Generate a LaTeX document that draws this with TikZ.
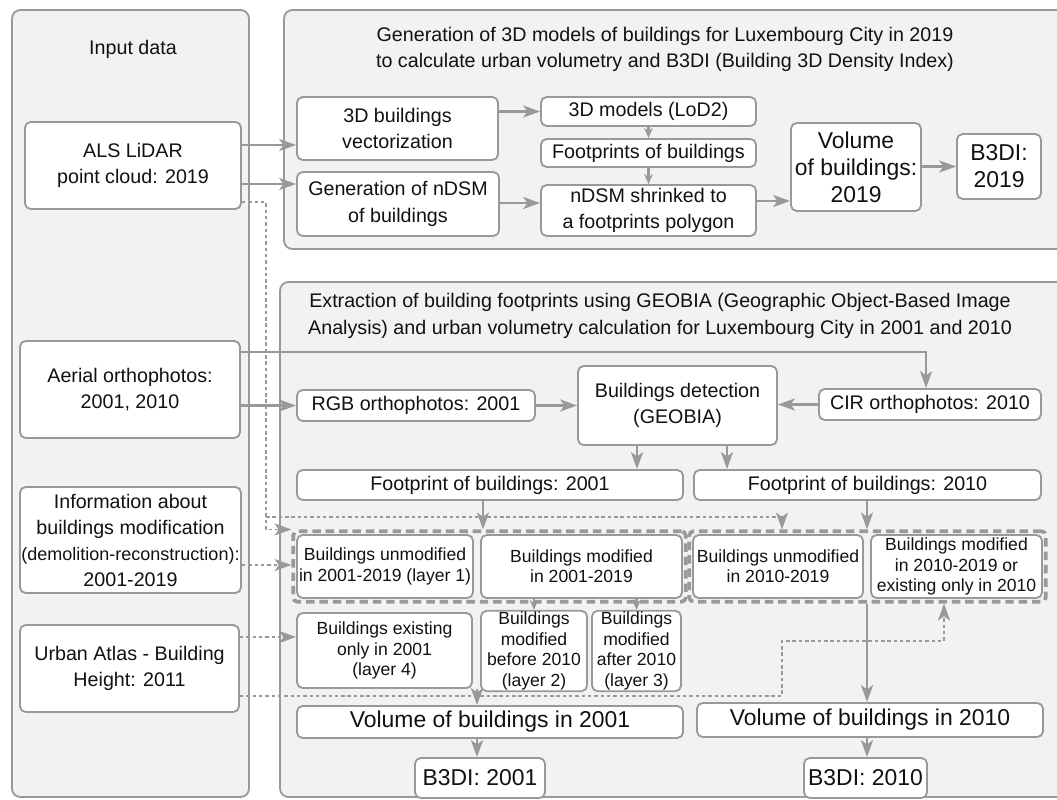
\documentclass[tikz,border=0pt]{standalone}
\usepackage{fontspec}
\setmainfont{Liberation Sans}
\usetikzlibrary{arrows.meta,positioning,fit,calc}
\definecolor{flowgray}{HTML}{999999}
\definecolor{panelgray}{HTML}{F2F2F2}
\definecolor{inktext}{HTML}{111111}
\newcommand{\upx}{0.025cm}

\begin{document}
\begin{tikzpicture}[x=\upx,y=-\upx,font=\fontsize{14}{19}\selectfont,text=inktext,
  panel/.style={draw=flowgray,fill=panelgray,line width=1.3pt,rounded corners=6pt},
  blk/.style 2 args={draw=flowgray,fill=white,line width=1.3pt,rounded corners=4pt,align=center,inner sep=1pt,minimum width=#1*\upx,minimum height=#2*\upx},
  smalltxt/.style={font=\fontsize{12.5}{14.5}\selectfont},
  bigtxt/.style={font=\fontsize{16.3}{19.2}\selectfont},
  grp/.style={draw=flowgray,line width=2.6pt,dash pattern=on 6pt off 3.5pt,rounded corners=3pt,inner sep=2pt},
  arr/.style={-{Stealth[length=12pt,width=8.5pt,inset=3pt]},flowgray,line width=1.9pt},
  shortarr/.style={-{Stealth[length=7pt,width=6pt,inset=2pt]},flowgray,line width=1.7pt},
  darr/.style={-{Stealth[length=12pt,width=8.5pt,inset=3pt]},flowgray,line width=1.3pt,dash pattern=on 2.5pt off 2pt}]
\useasboundingbox (0,0) rectangle (1057,800);
\clip (0,0) rectangle (1057,800);

% panels
\draw[panel] (12,10) rectangle (249,797);
\draw[panel] (284,10) rectangle (1070,249);
\draw[panel] (280,282) rectangle (1070,797);

% input data
\node (inputhead) at (133,49) {Input data};
\node[blk={216}{87}] (als) at (133,165.5) {ALS LiDAR\\point cloud: 2019};
\node[blk={220}{97}] (aerial) at (130,389.5) {Aerial orthophotos:\\2001, 2010};
\node[blk={221}{106},font=\fontsize{14}{18.5}\selectfont] (modinfo) at (130.5,540) {Information about\\buildings modification\\{\fontsize{12.8}{18.5}\selectfont(demolition-reconstruction):}\\2001-2019};
\node[blk={219}{87}] (atlas) at (129.5,668.5) {Urban Atlas - Building\\Height: 2011};

% 3D models 2019
\node[align=center,font=\fontsize{14}{18.5}\selectfont] (title3d) at (665,49) {Generation of 3D models of buildings for Luxembourg City in 2019\\to calculate urban volumetry and B3DI (Building 3D Density Index)};
\node[blk={201}{63}] (vect) at (397.5,128.5) {3D buildings\\vectorization};
\node[blk={202}{64}] (ndsm) at (398,204) {Generation of nDSM\\of buildings};
\node[blk={215}{29}] (lod2) at (648.5,111.5) {3D models (LoD2)};
\node[blk={215}{28}] (fprints) at (648.5,153) {Footprints of buildings};
\node[blk={215}{51}] (shrink) at (648.5,210.5) {nDSM shrinked to\\a footprints polygon};
\node[blk={130}{88},bigtxt] (vol19) at (856,167) {Volume\\of buildings:\\2019};
\node[blk={84}{65},bigtxt] (bdi19) at (999,166.5) {B3DI:\\2019};

% GEOBIA 2001 and 2010
\node[align=center,font=\fontsize{14}{19}\selectfont] (titlegeo) at (660,316) {Extraction of building footprints using GEOBIA (Geographic Object-Based Image\\Analysis) and urban volumetry calculation for Luxembourg City in 2001 and 2010};
\node[blk={238}{31}] (rgb) at (416,405.5) {RGB orthophotos: 2001};
\node[blk={199}{79}] (geobia) at (677.5,405.5) {Buildings detection\\(GEOBIA)};
\node[blk={222}{31}] (cir) at (930,404.5) {CIR orthophotos: 2010};
\node[blk={386}{30}] (fp01) at (490,485) {Footprint of buildings: 2001};
\node[blk={347}{30}] (fp10) at (867.5,485) {Footprint of buildings: 2010};
\node[blk={176}{63},smalltxt] (unmod01) at (385,566.5) {Buildings unmodified\\in 2001-2019 (layer 1)};
\node[blk={201}{63},smalltxt] (mod01) at (581.5,566.5) {Buildings modified\\in 2001-2019};
\node[blk={170}{63},smalltxt] (unmod10) at (778,566.5) {Buildings unmodified\\in 2010-2019};
\node[blk={171}{63},smalltxt] (mod10) at (956.5,566.5) {Buildings modified\\in 2010-2019 or\\existing only in 2010};
\node[grp,fit=(unmod01)(mod01)] (grpA) {};
\node[grp,fit=(unmod10)(mod10)] (grpB) {};
\node[blk={175}{75},smalltxt] (only01) at (384.5,650.5) {Buildings existing\\only in 2001\\(layer 4)};
\node[blk={106}{78},smalltxt] (before10) at (534,651) {Buildings\\modified\\before 2010\\(layer 2)};
\node[blk={89}{78},smalltxt] (after10) at (636.5,651) {Buildings\\modified\\after 2010\\(layer 3)};
\node[blk={386}{32},bigtxt] (vol01) at (490,722) {Volume of buildings in 2001};
\node[blk={346}{34},bigtxt] (vol10) at (870,720) {Volume of buildings in 2010};
\node[blk={130}{40},bigtxt] (bdi01) at (480,778) {B3DI: 2001};
\node[blk={123}{40},bigtxt] (bdi10) at (865.5,778) {B3DI: 2010};

% connectors, top
\draw[arr] (als.east |- 0,145) -- (vect.west |- 0,145);
\draw[arr] (als.east |- 0,184) -- (ndsm.west |- 0,184);
\draw[arr] (vect.east |- lod2.west) -- (lod2.west);
\draw[arr] (ndsm.east |- 0,203) -- (shrink.west |- 0,203);
\draw[shortarr] (lod2.south) -- (fprints.north);
\draw[shortarr] (fprints.south) -- (shrink.north);
\draw[arr] (shrink.east |- 0,201) -- (vol19.west |- 0,201);
\draw[arr] (vol19.east |- bdi19.west) -- (bdi19.west);

% connectors, bottom
\draw[arr] (aerial.east |- rgb.west) -- (rgb.west);
\draw[arr] (aerial.east |- 0,352) -| (cir.north -| 926,0);
\draw[arr] (rgb.east) -- (rgb.east -| geobia.west);
\draw[arr] (cir.west) -- (cir.west -| geobia.east);
\draw[arr] (geobia.south -| 637,0) -- (fp01.north -| 637,0);
\draw[arr] (geobia.south -| 727,0) -- (fp10.north -| 727,0);
\draw[arr] (fp01.south -| 483,0) -- (grpA.north -| 483,0);
\draw[arr] (fp10.south -| 867,0) -- (grpB.north -| 867,0);
\draw[shortarr] (mod01.south -| before10.north) -- (before10.north);
\draw[shortarr] (mod01.south -| after10.north) -- (after10.north);
\draw[arr] (only01.south -| 477,0) -- (vol01.north -| 477,0);
\draw[arr] (vol01.south -| 477,0) -- (bdi01.north -| 477,0);
\draw[arr] (grpB.south -| 867,0) -- (vol10.north -| 867,0);
\draw[arr] (vol10.south -| 867,0) -- (bdi10.north -| 867,0);

% dashed inputs
\coordinate (lidarturn) at (266,517);
\draw[darr] (als.east |- 0,202) -| (lidarturn) |- (grpA.north west);
\draw[darr] (lidarturn) -| (grpB.north -| 782,0);
\draw[darr] (modinfo.east |- 0,565) -- (grpA.west |- 0,565);
\draw[darr] (atlas.east |- 0,637) -- (only01.west |- 0,637);
\draw[darr] (atlas.east |- 0,696) -| (782,641) -| (grpB.south -| 944,0);
\end{tikzpicture}
\end{document}
